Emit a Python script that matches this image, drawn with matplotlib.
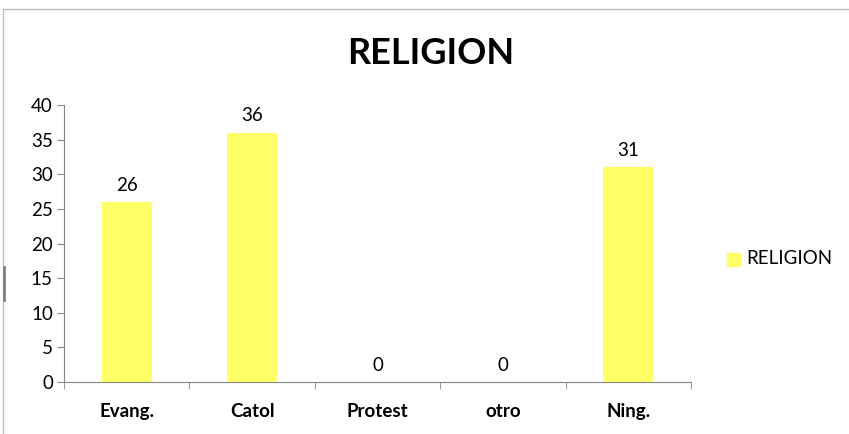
import matplotlib.pyplot as plt
import numpy as np
from matplotlib.patches import Rectangle

categorias = ['Evang.', 'Catol', 'Protest', 'otro', 'Ning.']
valores = [26, 36, 0, 0, 31]
serie = 'RELIGION'

plt.rcParams['font.family'] = ['Lato', 'DejaVu Sans']

fig = plt.figure(figsize=(8.49, 4.34), dpi=100)
ax = fig.add_axes([0.0754, 0.1198, 0.7385, 0.6382])

x = np.arange(len(categorias))
bars = ax.bar(x, valores, width=0.4, color='#ffff66', label=serie, zorder=2)

ax.set_xlim(-0.5, len(categorias) - 0.5)
ax.set_ylim(0, 40)
ax.set_yticks(np.arange(0, 41, 5))
ax.tick_params(axis='y', labelsize=13.5, length=5, color='#868686', pad=3)

# etiquetas de categoria sin tick, ticks en los limites
ax.set_xticks(x)
ax.set_xticklabels(categorias, fontsize=13.5, fontweight='bold')
ax.tick_params(axis='x', length=0, pad=15)
ax.set_xticks(np.arange(len(categorias) + 1) - 0.5, minor=True)
ax.tick_params(axis='x', which='minor', length=5, color='#868686')

for s in ['top', 'right']:
    ax.spines[s].set_visible(False)
for s in ['left', 'bottom']:
    ax.spines[s].set_color('#868686')

for b, v in zip(bars, valores):
    ax.annotate(str(v), (b.get_x() + b.get_width() / 2, v),
                xytext=(0, 6), textcoords='offset points',
                ha='center', va='bottom', fontsize=13.5)

fig.text(0.507, 1 - 53 / 434, 'RELIGION', ha='center', va='center',
         fontsize=26, fontweight='bold')

# leyenda
fig.patches.append(Rectangle((727 / 849, 1 - 266 / 434), 13 / 849, 13 / 434,
                             transform=fig.transFigure, color='#ffff66'))
fig.text(746 / 849, 1 - 259 / 434, serie, ha='left', va='center', fontsize=13.5)

# marco del grafico
fig.add_artist(plt.Line2D([3 / 849, 3 / 849], [0, 1 - 9 / 434], color='#bfbfbf', lw=1))
fig.add_artist(plt.Line2D([3 / 849, 1], [1 - 9 / 434, 1 - 9 / 434], color='#bfbfbf', lw=1))
fig.add_artist(plt.Line2D([4 / 849, 4 / 849], [1 - 300 / 434, 1 - 267 / 434], color='#808080', lw=2))

fig.savefig('out.png', dpi=100)
